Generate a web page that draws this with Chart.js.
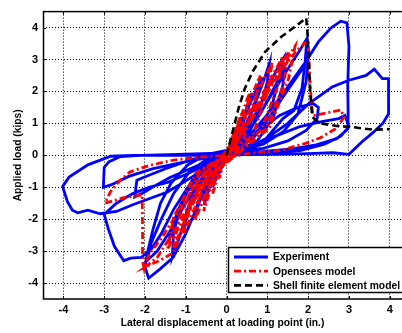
<!DOCTYPE html>
<html>
<head>
<meta charset="utf-8">
<script src="https://cdn.jsdelivr.net/npm/chart.js@4.4.1/dist/chart.umd.min.js"></script>
<style>
html,body{margin:0;padding:0;background:#fff}
#c{display:block}
</style>
</head>
<body>
<canvas id="c" width="402" height="333"></canvas>
<script>
"use strict"

// tick values
var xTicks=[-4,-3,-2,-1,0,1,2,3,4]
var yTicks=[-4,-3,-2,-1,0,1,2,3,4]

// experiment record, [displacement (in.), load (kips)]
var experiment=[
	[0,0],
	[0.08,0.3],[0.18,0.62],[0.12,0.35],[0.02,0.08],[-0.08,-0.25],[-0.17,-0.55],[-0.1,-0.3],[0,-0.02],
	[0.12,0.4],[0.3,1.0],[0.36,1.2],[0.28,0.8],[0.12,0.25],[-0.05,-0.05],[-0.2,-0.55],[-0.34,-1.0],[-0.27,-0.7],[-0.1,-0.12],
	[0.1,0.2],[0.3,0.75],[0.5,1.5],[0.62,1.95],[0.52,1.45],[0.32,0.7],[0.1,0.18],[-0.15,-0.2],[-0.38,-0.85],[-0.55,-1.55],[-0.48,-1.15],[-0.28,-0.45],[-0.02,0.02],
	[0.25,0.6],[0.55,1.55],[0.78,2.2],[0.86,2.45],[0.76,1.9],[0.5,0.95],[0.22,0.25],[-0.1,0.02],[-0.35,-0.5],[-0.6,-1.2],[-0.78,-1.9],[-0.7,-1.45],[-0.42,-0.55],[-0.1,0.0],
	[0.3,0.5],[0.65,1.45],[0.9,2.3],[1.05,2.88],[1.0,2.3],[0.78,1.3],[0.45,0.45],[0.1,0.1],[-0.3,-0.2],[-0.65,-0.8],[-0.9,-1.55],[-1.05,-2.3],[-0.98,-1.75],[-0.68,-0.85],[-0.3,-0.15],[0.05,0.12],
	[0.4,0.6],[0.8,1.5],[1.1,2.35],[1.3,2.85],[1.4,3.05],[1.32,2.55],[1.1,1.5],[0.7,0.6],[0.3,0.22],[-0.1,0.1],[-0.5,-0.25],[-0.85,-0.8],[-1.1,-1.55],[-1.3,-2.4],[-1.33,-3.18],[-1.18,-2.65],[-0.9,-1.55],[-0.5,-0.55],[-0.1,0.05],
	[0.4,0.5],[0.85,1.35],[1.2,2.2],[1.42,2.75],[1.38,2.2],[1.15,1.2],[0.75,0.45],[0.3,0.15],[-0.3,-0.1],[-0.75,-0.6],[-1.05,-1.3],[-1.3,-2.1],[-1.42,-2.7],[-1.3,-2.2],[-1.0,-1.2],[-0.55,-0.45],[0,0.05],
	[0.3,0.35],[0.7,1.05],[1.1,1.9],[1.5,2.7],[1.8,3.3],[1.97,3.66],[1.93,3.0],[1.85,2.1],[1.65,1.4],[1.38,1.15],[0.95,0.5],[0.45,0.2],[0,0.15],[-0.5,0.02],[-0.95,-0.3],[-1.35,-0.85],[-1.62,-1.5],[-1.8,-2.3],[-1.95,-3.1],[-2.0,-3.5],[-1.91,-3.85],[-1.62,-3.55],[-1.31,-3.2],[-1.0,-2.45],[-0.7,-1.55],[-0.35,-0.6],[0,0.0],
	[0.5,0.4],[1.0,1.1],[1.45,1.95],[1.8,2.6],[2.0,3.0],[1.95,2.3],[1.75,1.3],[1.4,0.75],[0.9,0.35],[0.3,0.15],[-0.4,-0.05],[-0.9,-0.5],[-1.3,-1.2],[-1.6,-2.0],[-1.85,-2.75],[-1.95,-3.3],[-1.7,-3.0],[-1.4,-2.4],[-1.05,-1.6],[-0.6,-0.7],[0,0],
	[0.4,0.32],[0.85,0.82],[1.3,1.25],[1.75,1.5],[2.12,1.62],[2.25,1.5],[2.22,1.15],[1.95,0.78],[1.5,0.45],[0.9,0.22],[0.3,0.15],[-0.3,0.05],[-0.9,-0.15],[-1.5,-0.42],[-1.95,-0.65],[-2.2,-0.78],[-2.25,-1.3],[-2.05,-1.18],[-1.75,-0.95],[-1.4,-0.7],[-0.95,-0.45],[-0.45,-0.18],[0,0.05],
	[0.45,0.45],[0.95,1.2],[1.45,2.05],[1.95,2.95],[2.25,3.55],[2.55,3.98],[2.8,4.2],[2.95,4.15],[3.0,3.4],[2.97,2.2],[2.98,1.2],[2.97,0.82],[2.7,0.52],[2.2,0.33],[1.6,0.2],[0.9,0.12],[0.2,0.1],
	[-0.4,-0.25],[-0.9,-0.9],[-1.3,-1.7],[-1.6,-2.45],[-1.85,-2.95],[-2.1,-3.2],[-2.35,-3.22],[-2.52,-3.3],[-2.75,-2.85],[-2.9,-2.3],[-3.0,-1.85],[-2.7,-1.5],[-2.3,-1.2],[-1.9,-1.0],[-1.45,-0.85],[-1.0,-0.6],[-0.5,-0.3],[0,0.0],
	[0.5,0.25],[1.2,0.6],[1.8,0.9],[2.3,1.05],[2.75,1.15],[2.9,1.25],[3.0,0.9],[2.8,0.6],[2.4,0.35],[1.8,0.15],[1.0,0.08],[0.2,0.08],[-0.6,0.05],[-1.4,0.02],[-2.1,0.0],[-2.6,-0.04],[-2.88,-0.2],[-3.0,-0.38],[-3.02,-1.0],[-2.82,-0.92],[-2.4,-0.66],[-1.8,-0.42],[-1.2,-0.25],[-0.5,-0.08],[0,0.05],
	[0.5,0.2],[1.0,0.55],[1.5,1.0],[2.0,1.6],[2.6,2.15],[3.0,2.35],[3.42,2.5],[3.62,2.7],[3.82,2.4],[3.97,2.4],[3.97,1.3],[3.83,1.0],[3.58,0.7],[3.3,0.4],[3.0,0.03],[2.6,0.08],[2.0,0.05],[1.2,0.03],[0.4,0.02],
	[-0.5,0.0],[-1.5,0.0],[-2.3,0.0],[-2.84,-0.03],[-3.4,-0.3],[-3.86,-0.68],[-4.02,-0.98],[-3.9,-1.45],[-3.78,-1.72],[-3.65,-1.8],[-3.4,-1.72],[-3.1,-1.83],[-2.7,-1.76],[-2.3,-1.55],[-1.9,-1.36],[-1.45,-1.15],[-1.0,-0.8],[-0.5,-0.4],[0,-0.05]
]

// OpenSees model, [displacement, load]
var opensees=[
	[0,0],
	[0.1,0.4],[0.2,0.8],[0.16,0.5],[0.06,0.12],[-0.06,-0.2],[-0.18,-0.72],[-0.14,-0.42],[-0.04,-0.06],
	[0.12,0.45],[0.36,1.3],[0.3,0.85],[0.12,0.22],[-0.08,-0.15],[-0.34,-1.2],[-0.28,-0.75],[-0.1,-0.12],
	[0.15,0.5],[0.35,1.2],[0.56,1.95],[0.48,1.3],[0.26,0.4],[0.02,0.02],[-0.28,-0.6],[-0.56,-1.75],[-0.46,-1.1],[-0.22,-0.25],
	[0.2,0.55],[0.5,1.5],[0.82,2.5],[0.7,1.7],[0.42,0.5],[0.06,0.05],[-0.35,-0.7],[-0.78,-2.05],[-0.66,-1.3],[-0.32,-0.3],
	[0.1,0.1],[0.5,1.2],[0.85,2.2],[1.12,2.9],[1.0,2.0],[0.65,0.65],[0.15,0.08],[-0.45,-0.75],[-0.8,-1.7],[-1.05,-2.45],[-0.92,-1.55],[-0.5,-0.4],
	[0.1,0.08],[0.6,1.2],[1.0,2.2],[1.38,3.1],[1.25,2.15],[0.85,0.8],[0.25,0.1],[-0.5,-0.75],[-0.95,-1.8],[-1.3,-2.9],[-1.15,-1.9],[-0.65,-0.5],
	[0.1,0.08],[0.65,1.3],[1.1,2.3],[1.52,3.25],[1.4,2.2],[0.95,0.8],[0.3,0.1],[-0.55,-0.8],[-1.05,-1.95],[-1.45,-2.95],[-1.3,-1.95],[-0.75,-0.55],
	[0.1,0.1],[0.7,1.35],[1.2,2.45],[1.68,3.42],[1.52,2.4],[1.05,0.85],[0.35,0.12],[-0.6,-0.85],[-1.2,-2.2],[-1.7,-3.2],[-2.0,-3.5],[-1.65,-3.3],[-1.3,-3.05],[-0.95,-1.9],[-0.5,-0.55],
	[0.1,0.12],[0.8,1.5],[1.3,2.6],[1.7,3.25],[2.0,3.6],[2.03,2.6],[2.08,1.6],[2.12,1.24],[2.5,1.34],[2.8,1.42],[2.88,1.2],[2.7,0.85],[2.3,0.55],[1.95,0.38],[1.3,0.15],[0.5,0.05],
	[-0.2,-0.15],[-0.7,-0.8],[-1.2,-1.8],[-1.6,-2.6],[-1.9,-3.1],[-2.02,-3.55],[-2.06,-3.3],[-2.06,-2.3],[-2.07,-1.24],[-2.5,-1.32],[-2.98,-1.5],[-2.85,-1.15],[-2.62,-0.8],[-2.37,-0.52],[-1.9,-0.32],[-1.3,-0.15],[-0.6,-0.05],[0,0]
]

// shell finite element pushover
var shell=[
	[0,0],[0.1,0.5],[0.2,1.0],[0.3,1.5],[0.45,2.1],[0.65,2.65],[0.95,3.25],[1.35,3.72],[1.7,4.05],[1.95,4.3],
	[1.98,3.9],[2.05,2.0],[2.1,1.2],[2.3,1.0],[2.7,0.92],[3.1,0.88],[3.6,0.8],[4.0,0.82]
]

function pts(list){
	return list.map(function(p){ return {x:p[0],y:p[1]} })
}

var FONT="'Liberation Sans', Arial, Helvetica, sans-serif"

var framePlugin={
	id:'frame',
	afterDatasetsDraw:function(chart){
		var ctx=chart.ctx, a=chart.chartArea
		var xs=chart.scales.x, ys=chart.scales.y
		ctx.save()
		ctx.strokeStyle='#000'
		ctx.lineWidth=1
		ctx.beginPath()
		xTicks.forEach(function(v){
			var px=Math.round(xs.getPixelForValue(v))+0.5
			ctx.moveTo(px,a.bottom); ctx.lineTo(px,a.bottom-3)
			ctx.moveTo(px,a.top); ctx.lineTo(px,a.top+3)
		})
		yTicks.forEach(function(v){
			var py=Math.round(ys.getPixelForValue(v))+0.5
			ctx.moveTo(a.left,py); ctx.lineTo(a.left+3,py)
		})
		ctx.stroke()
		ctx.lineWidth=1.5
		ctx.strokeRect(a.left+0.5,a.top,a.right-a.left+4,a.bottom-a.top)
		ctx.restore()
	},
	afterDraw:function(chart){
		var ctx=chart.ctx, a=chart.chartArea
		var left=a.left+185, top=a.bottom-52
		ctx.save()
		ctx.fillStyle='#fff'
		ctx.fillRect(left,top,200,46)
		ctx.strokeStyle='#000'
		ctx.lineWidth=1.5
		ctx.strokeRect(left+0.5,top+0.5,200,45)
		chart.data.datasets.forEach(function(ds,i){
			var row=top+10+i*14.2
			ctx.save()
			ctx.strokeStyle=ds.borderColor
			ctx.lineWidth=ds.borderWidth
			ctx.setLineDash(ds.borderDash||[])
			ctx.beginPath()
			ctx.moveTo(left+6,row); ctx.lineTo(left+40,row)
			ctx.stroke()
			ctx.restore()
			ctx.fillStyle='#000'
			ctx.font='bold 10.3px '+FONT
			ctx.textBaseline='middle'
			ctx.fillText(ds.label,left+45,row+0.5)
		})
		ctx.restore()
	}
}

new Chart(document.getElementById('c'),{
	type:'scatter',
	data:{
		datasets:[
			{label:'Experiment',data:pts(experiment),showLine:true,borderColor:'#0000ff',borderWidth:2.8,pointRadius:0,order:2,borderDash:[]},
			{label:'Opensees model',data:pts(opensees),showLine:true,borderColor:'#ff0000',borderWidth:2.8,pointRadius:0,order:1,borderDash:[7,3,2,3]},
			{label:'Shell finite element model',data:pts(shell),showLine:true,borderColor:'#000000',borderWidth:2.6,pointRadius:0,order:0,borderDash:[7,4]}
		]
	},
	options:{
		responsive:false,
		animation:false,
		layout:{padding:{top:6,right:0,left:0,bottom:0}},
		plugins:{legend:{display:false},tooltip:{enabled:false}},
		scales:{
			x:{
				type:'linear',min:-4.5,max:4.3,
				afterFit:function(s){ s.height=34 },
				afterBuildTicks:function(s){ s.ticks=xTicks.map(function(v){ return {value:v} }) },
				ticks:{color:'#000',padding:4,font:{family:FONT,size:11,weight:'bold'}},
				grid:{color:'#000',lineWidth:1,drawTicks:false},
				border:{display:false,dash:[1,2]},
				title:{display:true,text:'Lateral displacement at loading point (in.)',color:'#000',padding:{top:0,bottom:4},font:{family:FONT,size:10.3,weight:'bold'}}
			},
			y:{
				type:'linear',min:-4.5,max:4.5,
				afterFit:function(s){ s.width=43 },
				afterBuildTicks:function(s){ s.ticks=yTicks.map(function(v){ return {value:v} }) },
				ticks:{color:'#000',padding:5,font:{family:FONT,size:11,weight:'bold'}},
				grid:{color:'#000',lineWidth:1,drawTicks:false},
				border:{display:false,dash:[1,2]},
				title:{display:true,text:'Applied load (kips)',color:'#000',padding:{top:12,bottom:0},font:{family:FONT,size:10.3,weight:'bold'}}
			}
		}
	},
	plugins:[framePlugin]
})
</script>
</body>
</html>
